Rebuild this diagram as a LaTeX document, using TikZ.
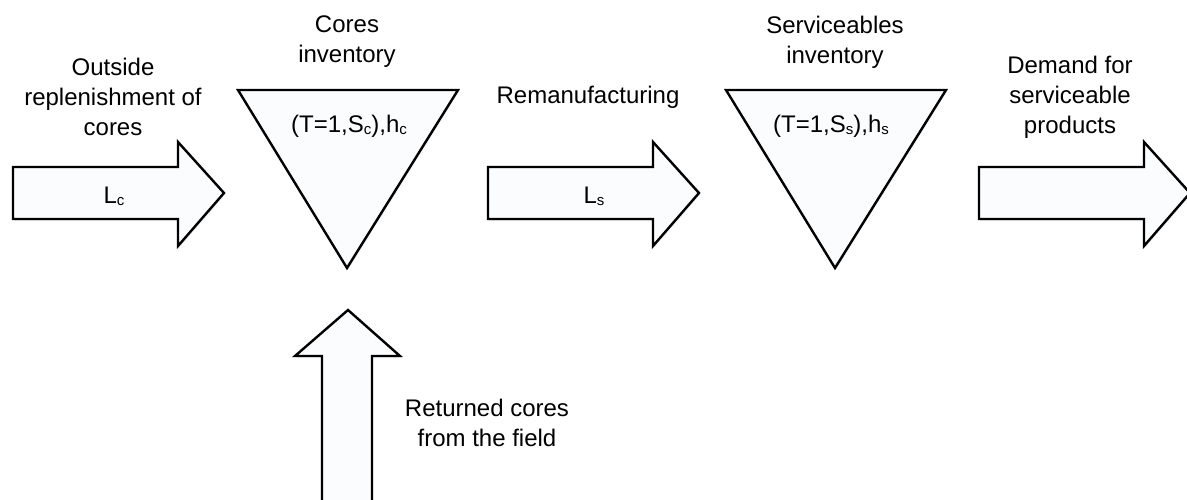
\documentclass[tikz,border=0pt]{standalone}
\usepackage{fontspec}
\setmainfont{Liberation Sans}
\usetikzlibrary{shadows}
\newcommand{\sbs}[1]{\raisebox{-0.15ex}{\fontsize{15}{15}\selectfont #1}}
\definecolor{shapefill}{RGB}{251,252,254}
\tikzset{
  blk/.style={draw=black, line width=2.4pt, fill=shapefill, line join=miter,
    drop shadow={opacity=0.12, shadow xshift=1pt, shadow yshift=-2pt}},
  lbl/.style={font=\fontsize{24}{30}\selectfont, align=center, inner sep=0pt},
}
\begin{document}
\begin{tikzpicture}[x=1pt,y=-1pt]
\useasboundingbox (0,0) rectangle (1187,499);
\clip (0,0) rectangle (1187,499);
% block arrows
\draw[blk] (13,167) -- (178,167) -- (178,142) -- (224,193) -- (178,246) -- (178,219) -- (13,219) -- cycle;
\draw[blk] (488,167) -- (653,167) -- (653,142) -- (699,193) -- (653,246) -- (653,219) -- (488,219) -- cycle;
\draw[blk] (979,167) -- (1144,167) -- (1144,142) -- (1190,193) -- (1144,246) -- (1144,219) -- (979,219) -- cycle;
\draw[blk] (322,515) -- (322,356) -- (295,356) -- (348,310) -- (400,356) -- (372,356) -- (372,515);
% inventory triangles
\draw[blk] (238,90) -- (458,90) -- (347,268) -- cycle;
\draw[blk] (726,90) -- (946,90) -- (835,268) -- cycle;
% labels
\node[lbl] (outside) at (113,97) {Outside\\replenishment of\\cores};
\node[lbl] (Lc) at (114,196) {L\sbs{c}};
\node[lbl] (coresinv) at (347,42) {Cores\\inventory};
\node[lbl] (tri1lbl) at (349,126) {(T=1,S\sbs{c}),h\sbs{c}};
\node[lbl] (reman) at (588,97) {Remanufacturing};
\node[lbl] (Ls) at (594,196) {L\sbs{s}};
\node[lbl] (servinv) at (835,42) {Serviceables\\inventory};
\node[lbl] (tri2lbl) at (831,126) {(T=1,S\sbs{s}),h\sbs{s}};
\node[lbl] (demand) at (1070,97) {Demand for\\serviceable\\products};
\node[lbl] (returned) at (487,423) {Returned cores\\from the field};
\end{tikzpicture}
\end{document}
